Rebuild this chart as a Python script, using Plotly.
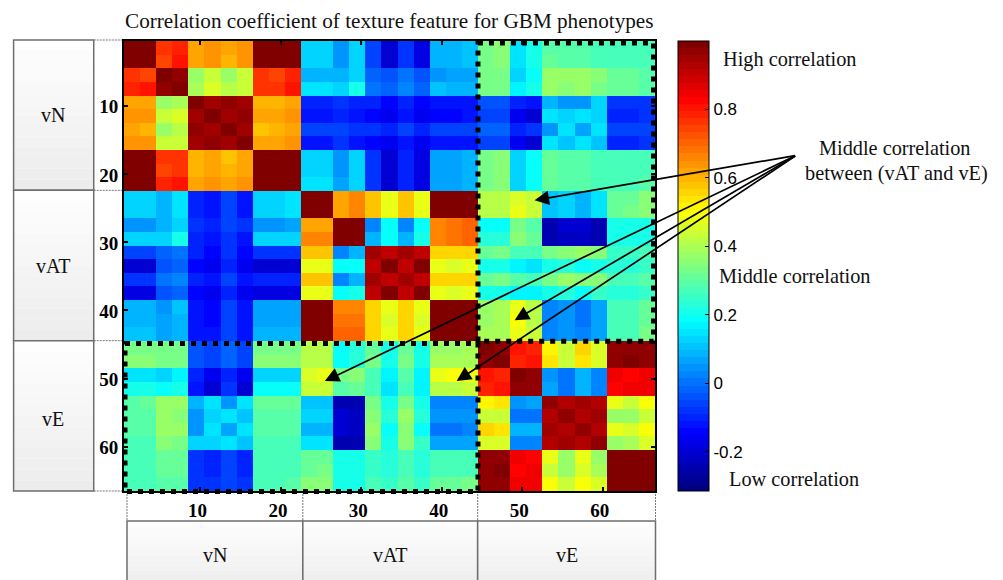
import numpy as np
import plotly.graph_objects as go

# Correlation values read per 2-feature band: each group has 11 bands
# (order within a group: 1a 1b 2a 2b 3a 3b 3c 3d 4a 4b 4c)
NN = [
 [1.00,1.00,.76,.78,.62,.65,.61,.64,1.00,.99,1.00],
 [1.00,1.00,.75,.80,.62,.64,.60,.64,.99,1.00,1.00],
 [.76,.75,1.00,.97,.38,.44,.38,.44,.76,.75,.78],
 [.78,.80,.97,.98,.40,.46,.42,.44,.76,.76,.80],
 [.62,.62,.38,.40,.98,.94,.97,.95,.60,.60,.62],
 [.65,.64,.44,.46,.94,.98,.94,.97,.62,.62,.64],
 [.61,.60,.38,.42,.97,.94,.98,.95,.58,.60,.62],
 [.64,.64,.44,.44,.95,.97,.95,.98,.61,.62,.64],
 [1.00,.99,.76,.76,.60,.62,.58,.61,1.00,1.00,1.00],
 [.99,1.00,.75,.76,.60,.62,.60,.62,1.00,1.00,1.00],
 [1.00,1.00,.78,.80,.62,.64,.62,.64,1.00,1.00,1.00],
]
NA = [
 [.13,.13,.05,.13,-.05,-.20,-.08,-.18,.08,.08,.10],
 [.13,.13,.05,.13,-.05,-.20,-.08,-.18,.08,.08,.10],
 [.08,.08,.08,.13,-.02,-.04,.00,-.03,.05,.06,.06],
 [.14,.14,.12,.20,.00,-.02,.03,-.01,.10,.08,.08],
 [-.10,-.10,-.07,-.10,-.10,-.14,-.10,-.14,-.11,-.11,-.11],
 [-.12,-.12,-.10,-.13,-.15,-.17,-.12,-.17,-.14,-.14,-.13],
 [-.05,-.05,-.05,-.08,-.08,-.10,-.05,-.10,-.06,-.06,-.05],
 [-.11,-.11,-.08,-.11,-.14,-.17,-.12,-.17,-.13,-.13,-.12],
 [.13,.13,.05,.12,-.08,-.20,-.10,-.18,.06,.07,.09],
 [.13,.13,.05,.12,-.08,-.20,-.10,-.18,.06,.07,.09],
 [.14,.14,.06,.12,-.08,-.20,-.10,-.18,.07,.07,.09],
]
NE = [
 [.34,.35,.14,.20,.30,.29,.30,.28,.28,.28,.28],
 [.34,.36,.14,.20,.31,.30,.30,.28,.28,.28,.28],
 [.34,.34,.13,.18,.38,.37,.38,.35,.31,.31,.30],
 [.33,.34,.16,.20,.37,.36,.38,.34,.31,.31,.30],
 [-.03,-.03,-.10,-.11,.08,.05,.05,.12,-.07,-.07,-.07],
 [-.05,-.05,-.16,-.20,.14,.12,.14,.12,-.09,-.09,-.08],
 [-.02,-.02,-.10,-.08,.05,.14,.06,.14,-.06,-.06,-.06],
 [-.05,-.05,-.16,-.20,.15,.10,.15,.10,-.09,-.09,-.08],
 [.34,.35,.13,.19,.32,.29,.30,.28,.27,.28,.28],
 [.34,.36,.13,.19,.31,.29,.30,.28,.27,.28,.28],
 [.34,.36,.12,.18,.31,.29,.29,.28,.27,.28,.29],
]
AA = [
 [1.00,1.00,.62,.66,.57,.48,.57,.47,1.00,.99,1.00],
 [1.00,1.00,.62,.66,.58,.48,.58,.48,1.00,.99,1.00],
 [.62,.62,1.00,.98,.03,.18,.03,.18,.66,.68,.70],
 [.66,.66,.98,1.00,.08,.18,.08,.20,.66,.68,.70],
 [.57,.58,.03,.08,.95,.90,.95,.90,.56,.55,.56],
 [.48,.48,.18,.18,.90,1.00,.90,1.00,.48,.46,.47],
 [.57,.58,.03,.08,.95,.90,.95,.90,.56,.55,.56],
 [.47,.48,.18,.20,.90,1.00,.90,1.00,.47,.46,.47],
 [1.00,1.00,.66,.66,.56,.48,.56,.47,1.00,1.00,1.00],
 [.99,.99,.68,.68,.55,.46,.55,.46,1.00,1.00,1.00],
 [1.00,1.00,.70,.70,.56,.47,.56,.47,1.00,1.00,1.00],
]
AE = [
 [.42,.42,.46,.43,.10,.13,.08,.14,.32,.32,.36],
 [.42,.42,.47,.44,.10,.13,.08,.15,.32,.33,.36],
 [.18,.19,.34,.30,-.24,-.21,-.21,-.24,.20,.20,.20],
 [.22,.22,.36,.32,-.25,-.22,-.22,-.25,.21,.20,.20],
 [.32,.33,.28,.27,.34,.35,.37,.36,.26,.26,.28],
 [.20,.20,.16,.15,.20,.22,.18,.20,.22,.22,.24],
 [.32,.33,.29,.28,.34,.38,.36,.36,.27,.28,.29],
 [.20,.21,.17,.16,.20,.22,.18,.24,.22,.23,.24],
 [.38,.39,.48,.42,.02,.05,.01,.06,.28,.28,.32],
 [.38,.40,.49,.42,.02,.05,.01,.06,.27,.27,.32],
 [.39,.40,.48,.43,.03,.05,.02,.07,.28,.28,.33],
]
EE = [
 [1.00,.97,.80,.78,.52,.44,.55,.45,.97,.97,.97],
 [.97,.98,.78,.80,.53,.44,.54,.46,.97,.98,.97],
 [.80,.78,1.00,.96,.05,.00,.08,.02,.84,.83,.84],
 [.78,.80,.96,.97,.06,.01,.08,.03,.83,.84,.84],
 [.52,.53,.05,.06,.97,.93,.94,.92,.47,.44,.50],
 [.44,.44,.00,.01,.93,.96,.92,.95,.37,.38,.43],
 [.55,.54,.08,.08,.94,.92,.97,.93,.47,.45,.50],
 [.45,.46,.02,.03,.92,.95,.93,.96,.37,.39,.45],
 [.97,.97,.84,.83,.47,.37,.47,.37,1.00,1.00,1.00],
 [.97,.98,.83,.84,.44,.38,.45,.39,1.00,1.00,1.00],
 [.97,.97,.84,.84,.50,.43,.50,.45,1.00,1.00,1.00],
]
band_width = 2
z_min, z_max = -0.315, 1.0
tick_values = [10, 20, 30, 40, 50, 60]
bar_ticks = [-0.2, 0, 0.2, 0.4, 0.6, 0.8]
group_labels = ["vN", "vAT", "vE"]

bands = np.block([
    [np.array(NN), np.array(NA), np.array(NE)],
    [np.array(NA).T, np.array(AA), np.array(AE)],
    [np.array(NE).T, np.array(AE).T, np.array(EE)],
])
z = np.repeat(np.repeat(bands, band_width, axis=0), band_width, axis=1)
n = z.shape[0]
features = list(range(1, n + 1))


def jet(t):
    stops = [(0, (0, 0, .5156)), (.125, (0, 0, 1)), (.375, (0, 1, 1)),
             (.625, (1, 1, 0)), (.875, (1, 0, 0)), (1, (.5, 0, 0))]
    xs = [s[0] for s in stops]
    return [int(round(255 * np.interp(t, xs, [s[1][i] for s in stops]))) for i in range(3)]


levels = 64
colorscale = []
for i in range(levels):
    r, g, b = jet(i / (levels - 1))
    col = f"rgb({r},{g},{b})"
    colorscale += [[i / levels, col], [(i + 1) / levels, col]]

W, H = 1003, 580
L, R, T, B = 124.0, 655.5, 40.5, 491.0


def px(x):
    return (x - L) / (R - L)


def py(y):
    return 1 - (y - T) / (B - T)


SERIF = "Liberation Serif, Times New Roman, serif"
SANS = "Liberation Sans, Arial, sans-serif"

fig = go.Figure(go.Heatmap(
    x=features, y=features, z=z, zmin=z_min, zmax=z_max, colorscale=colorscale,
    hoverongaps=False,
    colorbar=dict(
        thickness=31, thicknessmode="pixels", len=1, lenmode="fraction", y=0.5, yanchor="middle",
        x=px(679), xanchor="left", xpad=0, ypad=0, outlinecolor="black", outlinewidth=1,
        tickvals=bar_ticks, ticktext=["-0.2", "0", "0.2", "0.4", "0.6", "0.8"],
        ticks="inside", ticklen=4, tickcolor="black", tickwidth=1,
        tickfont=dict(family=SANS, size=17, color="black"),
    ),
))

shapes = []


def panel(x0, x1, y0, y1):
    strips = 14
    for i in range(strips):
        g = int(255 - (255 - 236) * (i + .5) / strips)
        ya = y0 + (y1 - y0) * i / strips
        yb = y0 + (y1 - y0) * (i + 1) / strips
        shapes.append(dict(type="rect", xref="paper", yref="paper", layer="below",
                           x0=px(x0), x1=px(x1), y0=py(ya), y1=py(yb),
                           fillcolor=f"rgb({g},{g},{g})", line_width=0))
    shapes.append(dict(type="rect", xref="paper", yref="paper", layer="below",
                       x0=px(x0), x1=px(x1), y0=py(y0), y1=py(y1),
                       line=dict(color="#6e6e6e", width=1.5)))


def dotted(x0, y0, x1, y1):
    shapes.append(dict(type="line", xref="paper", yref="paper", layer="below",
                       x0=px(x0), x1=px(x1), y0=py(y0), y1=py(y1),
                       line=dict(color="#777777", width=1, dash="2px,1px")))


left_edges = [39.5, 190, 340.5, 491]
for i in range(3):
    panel(13.5, 93.7, left_edges[i], left_edges[i + 1])
for y in left_edges:
    dotted(93.7, y, 124, y)
bottom_edges = [127, 303, 478, 656]
for i in range(3):
    panel(bottom_edges[i], bottom_edges[i + 1], 521, 590)
for x in bottom_edges:
    dotted(x, 491, x, 521)

# thick dotted boxes round the vAT x vE blocks (drawn over the frame, so paper-referenced)
dash_line = dict(color="black", width=5, dash="5px,6px")
for x0, y0, x1, y1 in [(478.3, 42.5, 654, 341), (125, 343.3, 478.3, 491.5)]:
    shapes.append(dict(type="rect", xref="paper", yref="paper", x0=px(x0), x1=px(x1),
                       y0=py(y0), y1=py(y1), line=dash_line))

# inner colour-bar ticks on the left side
for v in bar_ticks:
    yy = py(B - (v - z_min) / (z_max - z_min) * (B - T))
    shapes.append(dict(type="line", xref="paper", yref="paper", x0=px(679), x1=px(683),
                       y0=yy, y1=yy, line=dict(color="black", width=1)))

annotations = []


def text(s, x, y, size=20.3):
    annotations.append(dict(text=s, x=px(x), y=py(y), xref="paper", yref="paper", showarrow=False,
                            xanchor="center", yanchor="middle",
                            font=dict(family=SERIF, size=size, color="#111111")))


text("Correlation coefficient of texture feature for GBM phenotypes", 390, 20, 21.2)
for lab, cy in zip(group_labels, [115, 266, 419]):
    text(lab, 53, cy, 20)
for lab, cx in zip(group_labels, [215, 390, 567]):
    text(lab, cx, 555, 20)
text("High correlation", 790, 59)
text("Middle correlation", 896, 148)
text("between (vAT and vE)", 897, 173)
text("Middle correlation", 796, 276)
text("Low correlation", 795, 479)

apex = (797, 155)
for tx, ty in [(535, 200), (515, 320), (325, 381), (457, 381)]:
    annotations.append(dict(
        x=px(tx), y=py(ty), ax=apex[0] - tx, ay=apex[1] - ty, xref="paper", yref="paper",
        axref="pixel", ayref="pixel", text="", showarrow=True, arrowhead=2, arrowsize=1.7,
        arrowwidth=1.7, arrowcolor="black"))

axis_font = dict(family=SERIF, size=19, color="black", weight="bold")
fig.update_layout(
    width=W, height=H, autosize=False, paper_bgcolor="white", plot_bgcolor="white",
    margin=dict(l=L, r=W - R, t=T, b=H - B, pad=0),
    font=dict(family=SERIF),
    shapes=shapes, annotations=annotations,
    xaxis=dict(range=[.5, n + .5], tickvals=tick_values, ticks="inside", ticklen=4, tickwidth=1.5,
               tickcolor="black", showline=True, linecolor="black", linewidth=2, mirror="ticks",
               showgrid=False, zeroline=False, tickfont=axis_font, ticklabelstandoff=1,
               ticklabelshift=-3),
    yaxis=dict(range=[n + .5, .5], tickvals=tick_values, ticks="inside", ticklen=4, tickwidth=1.5,
               tickcolor="black", showline=True, linecolor="black", linewidth=2, mirror="ticks",
               showgrid=False, zeroline=False, tickfont=axis_font, ticklabelstandoff=0,
               ticklabelshift=-1),
)
fig.write_html("out.html", config={"displayModeBar": False},
               post_script="document.body.style.margin='0';")
